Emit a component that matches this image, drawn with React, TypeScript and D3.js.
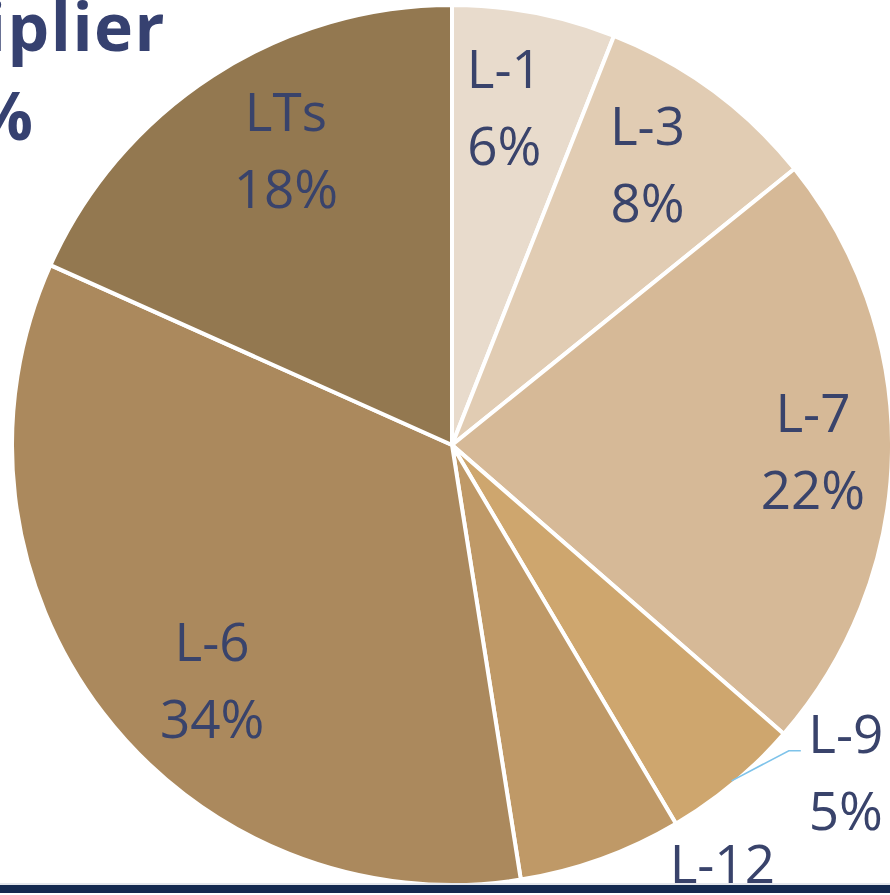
import React from "react";
import * as d3 from "d3";

const categories = ["L-1", "L-3", "L-7", "L-9", "L-12", "L-6", "LTs"];
const shares = [6.0, 8.2, 22.2, 5.1, 6.0, 34.2, 18.3];
const percentLabels = ["6%", "8%", "22%", "5%", "6%", "34%", "18%"];
const sliceColors = ["#E8DBCC", "#E1CCB3", "#D6B997", "#CEA66E", "#BF9967", "#AB895D", "#937850"];
const titleLines = ["Multiplier", "%"];

const W = 890;
const H = 895;
const CX = 452;
const CY = 445;
const R = 440;
const TEXT = "#39436B";
const FONT = "'Open Sans', 'Noto Sans', sans-serif";

// label placement: radius and angle nudge (degrees) per category
const placement: Record<string, { r: number; da: number }> = {
  "L-1": { r: 342, da: -2 },
  "L-3": { r: 342, da: -1.5 },
  "L-7": { r: 361, da: 0 },
  "L-9": { r: 512, da: -10.5 },
  "L-12": { r: 531, da: -10.8 },
  "L-6": { r: 336, da: -7 },
  "LTs": { r: 338, da: 3.5 },
};

export default function App() {
  const pie = d3.pie<number>().value((d) => d).sort(null);
  const arcs = pie(shares);
  const arc = d3.arc<d3.PieArcDatum<number>>().innerRadius(0).outerRadius(R);
  const fs = 53;
  const lineGap = 77;

  const labelPos = (a: d3.PieArcDatum<number>, i: number) => {
    const p = placement[categories[i]];
    const mid = (a.startAngle + a.endAngle) / 2 + (p.da * Math.PI) / 180;
    return [CX + p.r * Math.sin(mid), CY - p.r * Math.cos(mid)];
  };

  return (
    <div style={{ position: "fixed", left: 0, top: 0, width: W, height: H, background: "#fff" }}>
      <svg width={W} height={H} style={{ display: "block", overflow: "hidden" }}>
        <g transform={`translate(${CX},${CY})`}>
          {arcs.map((a, i) => (
            <path key={i} d={arc(a) || ""} fill={sliceColors[i]} stroke="#fff" strokeWidth={4} strokeLinejoin="round" />
          ))}
        </g>
        {arcs.map((a, i) => {
          const [x, y] = labelPos(a, i);
          const b1 = y - lineGap / 2 + 19;
          let leader = null;
          if (categories[i] === "L-9") {
            const mid = (a.startAngle + a.endAngle) / 2;
            const sx = CX + (R - 3) * Math.sin(mid);
            const sy = CY - (R - 3) * Math.cos(mid);
            const ly = b1 - 2;
            leader = (
              <polyline
                points={`${sx},${sy} ${x - 57},${ly} ${x - 45},${ly}`}
                fill="none"
                stroke="#7EC3EA"
                strokeWidth={1.6}
              />
            );
          }
          return (
            <g key={"l" + i}>
              {leader}
              <text x={x} y={b1} textAnchor="middle" fontFamily={FONT} fontSize={fs} fill={TEXT}>
                {categories[i]}
              </text>
              <text x={x} y={b1 + lineGap} textAnchor="middle" fontFamily={FONT} fontSize={fs} fill={TEXT}>
                {percentLabels[i]}
              </text>
            </g>
          );
        })}
        <text x={166} y={51} textAnchor="end" fontFamily={FONT} fontWeight={700} fontSize={66} letterSpacing={1.5} fill="#364170">
          {titleLines[0]}
        </text>
        <text x={33} y={140} textAnchor="end" fontFamily={FONT} fontWeight={700} fontSize={66} fill="#364170">
          {titleLines[1]}
        </text>
        <line x1={0} x2={W} y1={884} y2={884} stroke="#C9CFDA" strokeWidth={1} />
        <rect x={0} y={885} width={W} height={8} fill="#142A50" />
      </svg>
    </div>
  );
}
